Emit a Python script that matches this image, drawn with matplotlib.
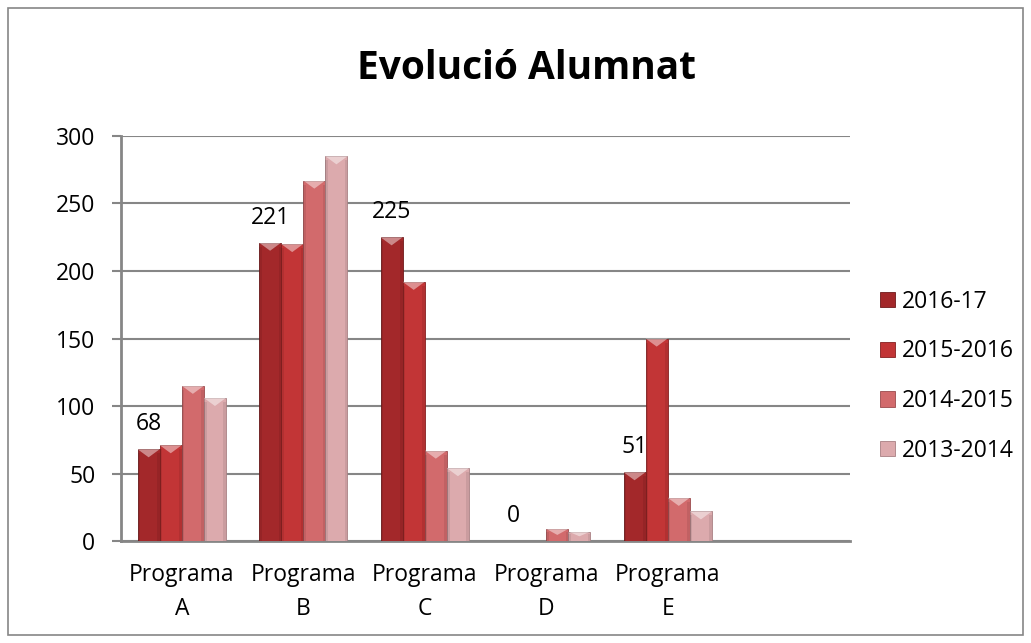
import numpy as np
import matplotlib.pyplot as plt
from matplotlib.patches import Rectangle, Polygon

plt.rcParams['font.family'] = ['Open Sans', 'DejaVu Sans']

# data
categories = ['Programa\nA', 'Programa\nB', 'Programa\nC', 'Programa\nD', 'Programa\nE', '']
series = ['2016-17', '2015-2016', '2014-2015', '2013-2014']
v2016_17 = [68, 221, 225, 0, 51]
v2015_16 = [71, 220, 192, 0, 150]
v2014_15 = [115, 267, 67, 9, 32]
v2013_14 = [106, 285, 54, 7, 22]
values = [v2016_17, v2015_16, v2014_15, v2013_14]
colors = ['#a3282a', '#c23536', '#d26a6c', '#dcaaad']
edges = ['#6e1a1b', '#85201f', '#9a4a4c', '#a88083']

fs = 16.5
fig = plt.figure(figsize=(10.31, 6.43), dpi=100)
ax = fig.add_axes([0.1174, 0.1586, 0.8244 - 0.1174, 0.7885 - 0.1586])

# outer chart border
fig.patches.append(Rectangle((0.008, 0.012), 0.984, 0.975, transform=fig.transFigure,
                             fill=False, edgecolor='#868686', lw=1.2))

x = np.arange(len(categories))
w = 0.182
for i, (name, vals) in enumerate(zip(series, values)):
	pos = x[:len(vals)] + (i - 1.5) * w
	bars = ax.bar(pos, vals, width=w, color=colors[i], edgecolor=edges[i], lw=0.6,
	              label=name, zorder=3)
	# bevel look: light wedge on top, darker strips on the sides
	for b in bars:
		h = b.get_height()
		if h <= 0:
			continue
		bx, bw = b.get_x(), b.get_width()
		d = min(6.0, h * 0.5)
		tri = Polygon([(bx, h), (bx + bw, h), (bx + bw / 2, h - d)], closed=True,
		              facecolor='white', alpha=0.45, lw=0, zorder=4)
		ax.add_patch(tri)
		for sx in (bx, bx + bw * 0.88):
			ax.add_patch(Rectangle((sx, 0), bw * 0.12, h - d * 0.5, facecolor='black',
			                       alpha=0.08, lw=0, zorder=4))
	if i == 0:
		for px, v in zip(pos, vals):
			ax.annotate(str(v), (px, v), xytext=(0, 18), textcoords='offset points',
			            ha='center', va='center', fontsize=fs)

ax.set_xlim(-0.5, len(categories) - 0.5)
ax.set_ylim(0, 300)
ax.set_yticks(np.arange(0, 301, 50))
ax.set_xticks(x)
ax.set_xticklabels(categories, fontsize=fs, linespacing=1.55)
ax.tick_params(axis='y', labelsize=fs, length=6.5, width=1.5, color='#868686', pad=12)
ax.tick_params(axis='x', length=0, pad=16)
ax.grid(axis='y', color='#868686', lw=1.5, zorder=0)
for s in ['top', 'right']:
	ax.spines[s].set_visible(False)
for s in ['left', 'bottom']:
	ax.spines[s].set_color('#868686')
	ax.spines[s].set_linewidth(2)

fig.text(0.511, 0.893, 'Evolució Alumnat', ha='center', va='center',
         fontsize=28, fontweight='bold')

ax.legend(loc='center left', bbox_to_anchor=(0.8535, 0.415), bbox_transform=fig.transFigure,
          frameon=False, fontsize=fs, handlelength=0.65, handleheight=0.65,
          handletextpad=0.3, labelspacing=1.12, borderpad=0, borderaxespad=0)

fig.savefig('out.png', dpi=100)
